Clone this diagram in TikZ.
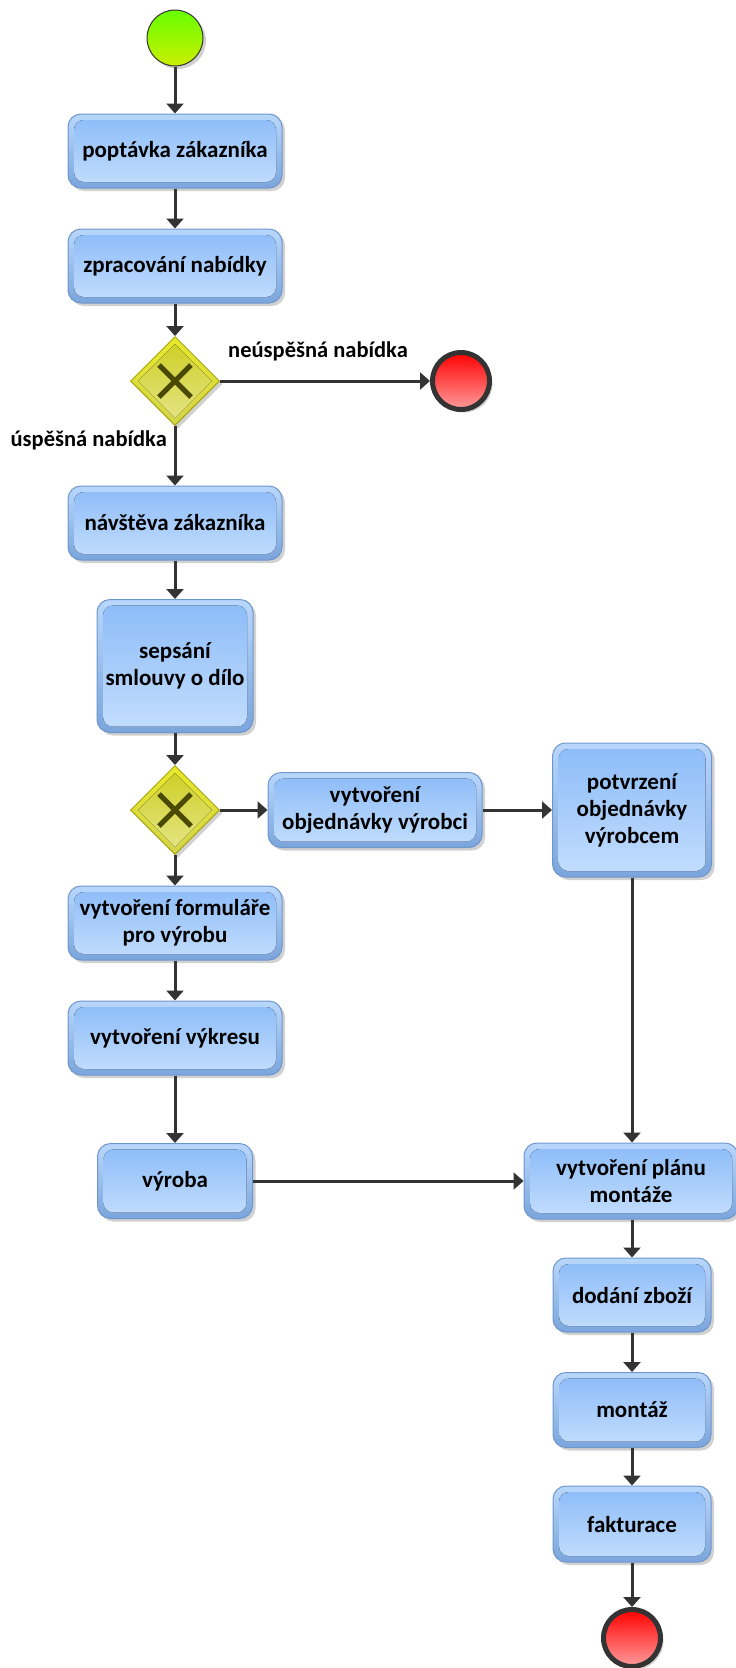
\documentclass[tikz,border=0pt]{standalone}
\usepackage{fontspec}
\setmainfont{Carlito}
\usetikzlibrary{arrows.meta,shapes.geometric,shadows,calc}
\definecolor{arrowc}{HTML}{333333}
\definecolor{taskborder}{HTML}{6E96CC}
\definecolor{taskouttop}{HTML}{B9D7FC}
\definecolor{taskoutbot}{HTML}{7AA5DC}
\definecolor{taskintop}{HTML}{8BBBF8}
\definecolor{taskinbot}{HTML}{C4DEFD}
\definecolor{gwborder}{HTML}{A6A60E}
\definecolor{gwouttop}{HTML}{E8E82A}
\definecolor{gwoutbot}{HTML}{D4D44C}
\definecolor{gwintop}{HTML}{CDCD1E}
\definecolor{gwinbot}{HTML}{E6E68C}
\definecolor{gwx}{HTML}{4A4A00}
\definecolor{starttop}{HTML}{66FF00}
\definecolor{startbot}{HTML}{CCEE00}
\definecolor{endtop}{HTML}{FF0000}
\definecolor{endbot}{HTML}{FF9C9C}
\begin{document}
\begin{tikzpicture}[x=1pt,y=-1pt,
  lbl/.style={font=\bfseries\fontsize{22.5}{27}\selectfont, text=black, inner sep=0pt},
  task/.style={rectangle, rounded corners=13pt, draw=taskborder, line width=1pt,
    top color=taskouttop, bottom color=taskoutbot,
    font=\bfseries\fontsize{23}{27}\selectfont, align=center, text=black, inner sep=0pt,
    drop shadow={shadow xshift=3pt, shadow yshift=-3pt, opacity=0.3, fill=black!60},
    path picture={\fill[rounded corners=10pt, top color=taskintop, bottom color=taskinbot]
      ([shift={(6pt,-6pt)}]path picture bounding box.north west) rectangle
      ([shift={(-6pt,6pt)}]path picture bounding box.south east);}},
  gateway/.style={diamond, aspect=1, minimum size=89pt, inner sep=0pt, draw=gwborder, line width=1pt,
    top color=gwouttop, bottom color=gwoutbot,
    drop shadow={shadow xshift=3pt, shadow yshift=-3pt, opacity=0.3, fill=black!60},
    path picture={
      \fill[top color=gwintop, bottom color=gwinbot]
        ([shift={(0pt,37pt)}]path picture bounding box.center) -- ([shift={(37pt,0pt)}]path picture bounding box.center)
        -- ([shift={(0pt,-37pt)}]path picture bounding box.center) -- ([shift={(-37pt,0pt)}]path picture bounding box.center) -- cycle;
      \draw[gwx, line width=5pt]
        ([shift={(-16pt,-16pt)}]path picture bounding box.center) -- ([shift={(16pt,16pt)}]path picture bounding box.center)
        ([shift={(-16pt,16pt)}]path picture bounding box.center) -- ([shift={(16pt,-16pt)}]path picture bounding box.center);}},
  startev/.style={circle, minimum size=56pt, inner sep=0pt, draw=arrowc, line width=1pt,
    top color=starttop, bottom color=startbot,
    drop shadow={shadow xshift=3pt, shadow yshift=-3pt, opacity=0.3, fill=black!60}},
  endev/.style={circle, minimum size=57pt, inner sep=0pt, draw=arrowc, line width=5pt,
    top color=endtop, bottom color=endbot,
    drop shadow={shadow xshift=3pt, shadow yshift=-3pt, opacity=0.3, fill=black!60}},
  flow/.style={draw=arrowc, line width=3pt, -{Triangle[width=17pt,length=10pt]}},
]
\useasboundingbox (0,0) rectangle (736,1668);
\node[startev] (start) at (175,38) {};
\node[task, minimum width=214pt, minimum height=74pt] (t1) at (175,151) {poptávka zákazníka};
\node[task, minimum width=214pt, minimum height=74pt] (t2) at (175,266) {zpracování nabídky};
\node[gateway] (gw1) at (175,381) {};
\node[endev] (end1) at (461,381) {};
\node[task, minimum width=214pt, minimum height=74pt] (t3) at (175,523) {návštěva zákazníka};
\node[task, minimum width=156pt, minimum height=133pt] (t4) at (175,666) {sepsání\\smlouvy o dílo};
\node[gateway] (gw2) at (175,810) {};
\node[task, minimum width=214pt, minimum height=75pt] (t5) at (375,810) {vytvoření\\objednávky výrobci};
\node[task, minimum width=159pt, minimum height=134pt] (t6) at (632,810) {potvrzení\\objednávky\\výrobcem};
\node[task, minimum width=214pt, minimum height=74pt] (t7) at (175,923) {vytvoření formuláře\\pro výrobu};
\node[task, minimum width=214pt, minimum height=74pt] (t8) at (175,1038) {vytvoření výkresu};
\node[task, minimum width=155pt, minimum height=75pt] (t9) at (175,1181) {výroba};
\node[task, minimum width=214pt, minimum height=76pt] (t10) at (631,1181) {vytvoření plánu\\montáže};
\node[task, minimum width=158pt, minimum height=74pt] (t11) at (632,1295) {dodání zboží};
\node[task, minimum width=158pt, minimum height=75pt] (t12) at (632,1410) {montáž};
\node[task, minimum width=158pt, minimum height=76pt] (t13) at (632,1524) {fakturace};
\node[endev] (end2) at (632,1638) {};
\node[lbl] (l1) at (318,351) {neúspěšná nabídka};
\node[lbl, anchor=east] (l2) at (167,440) {úspěšná nabídka};
\draw[flow] (start) -- (t1);
\draw[flow] (t1) -- (t2);
\draw[flow] (t2) -- (gw1);
\draw[flow] (gw1) -- (end1);
\draw[flow] (gw1) -- (t3);
\draw[flow] (t3) -- (t4);
\draw[flow] (t4) -- (gw2);
\draw[flow] (gw2) -- (t5);
\draw[flow] (gw2) -- (t7);
\draw[flow] (t5) -- (t6);
\draw[flow] (t6.south) -- (t6.south |- t10.north);
\draw[flow] (t7) -- (t8);
\draw[flow] (t8) -- (t9);
\draw[flow] (t9) -- (t10);
\draw[flow] (t10.south -| t11.north) -- (t11.north);
\draw[flow] (t11) -- (t12);
\draw[flow] (t12) -- (t13);
\draw[flow] (t13) -- (end2);
\end{tikzpicture}
\end{document}
